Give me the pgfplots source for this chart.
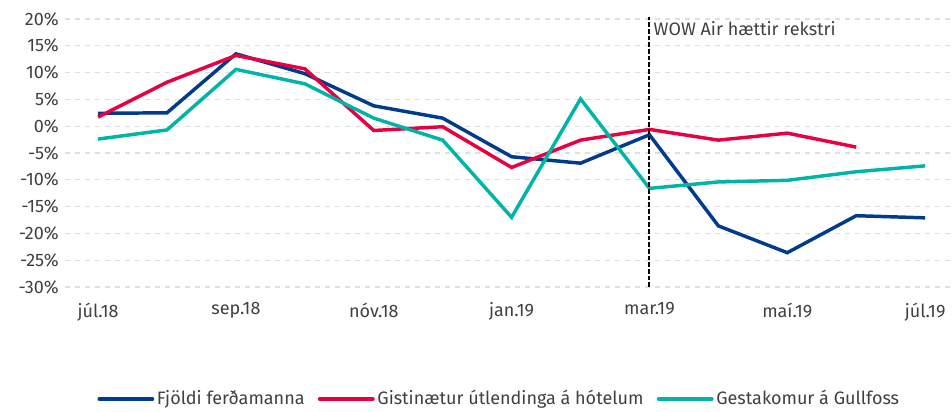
\documentclass[border=0pt]{standalone}
\usepackage{pgfplots}
\pgfplotsset{compat=1.18}
\usepackage{fontspec}
\setmainfont{Fira Sans}
\definecolor{cblue}{HTML}{003B8E}
\definecolor{cred}{HTML}{E8003F}
\definecolor{cteal}{HTML}{00B5A8}
\definecolor{ctext}{HTML}{404040}
\begin{document}
\fontsize{13.5pt}{16pt}\selectfont
\begin{tikzpicture}
\begin{axis}[name=ax,
  scale only axis, width=665.25pt, height=201pt,
  xmin=-0.48, xmax=12.39, ymin=-30, ymax=20,
  axis line style={draw=none},
  major tick length=0pt,
  xtick={0,2,...,12},
  xticklabels={júl.18,sep.18,nóv.18,jan.19,mar.19,maí.19,júl.19},
  ytick={-30,-25,...,20},
  yticklabel={\pgfmathprintnumber{\tick}\%},
  /pgf/number format/assume math mode=true,
  ticklabel style={font=\fontsize{13.5pt}{16pt}\selectfont, text=ctext},
  xticklabel style={yshift=-7pt},
  ymajorgrids,
  major grid style={gray!25, line width=0.9pt, dash pattern=on 4pt off 3.5pt},
  extra y ticks={0}, extra y tick labels={},
  extra y tick style={grid style={black, solid, line width=0.6pt}},
  legend style={at={(0.49,-0.418)}, anchor=center, draw=none, fill=none,
    font=\fontsize{13.5pt}{16pt}\selectfont, text=ctext, legend columns=-1,
    /tikz/every even column/.append style={column sep=8pt}},
  legend image code/.code={\draw[#1, line width=2.6pt, line cap=round] (0pt,0pt) -- (40pt,0pt);},
  every axis plot/.append style={line width=2.6pt},
  clip=false,
]
\addplot[cblue] coordinates {(0,2.4)(1,2.5)(2,13.5)(3,9.8)(4,3.8)(5,1.5)(6,-5.7)(7,-6.9)(8,-1.6)(9,-18.6)(10,-23.6)(11,-16.7)(12,-17.1)};
\addlegendentry{Fjöldi ferðamanna}
\addplot[cred] coordinates {(0,1.7)(1,8.2)(2,13.2)(3,10.7)(4,-0.8)(5,-0.1)(6,-7.7)(7,-2.6)(8,-0.6)(9,-2.6)(10,-1.3)(11,-3.9)};
\addlegendentry{Gistinætur útlendinga á hótelum}
\addplot[cteal] coordinates {(0,-2.4)(1,-0.7)(2,10.6)(3,7.9)(4,1.5)(5,-2.6)(6,-17.0)(7,5.1)(8,-11.6)(9,-10.4)(10,-10.1)(11,-8.5)(12,-7.4)};
\addlegendentry{Gestakomur á Gullfoss}
\addplot[black, line width=1.5pt, dash pattern=on 3.5pt off 1.5pt, forget plot] coordinates {(8,-30)(8,20.3)};
\node[anchor=north west, text=ctext, inner sep=0pt, font=\fontsize{13.5pt}{16pt}\selectfont] at ([xshift=3pt,yshift=-2pt]axis cs:8,20) {WOW Air hættir rekstri};
\end{axis}
\pgfresetboundingbox
\path[use as bounding box] ([shift={(-48.75pt,-93.75pt)}]ax.south west) rectangle ([shift={(0pt,14.25pt)}]ax.north east);
\end{tikzpicture}
\end{document}
